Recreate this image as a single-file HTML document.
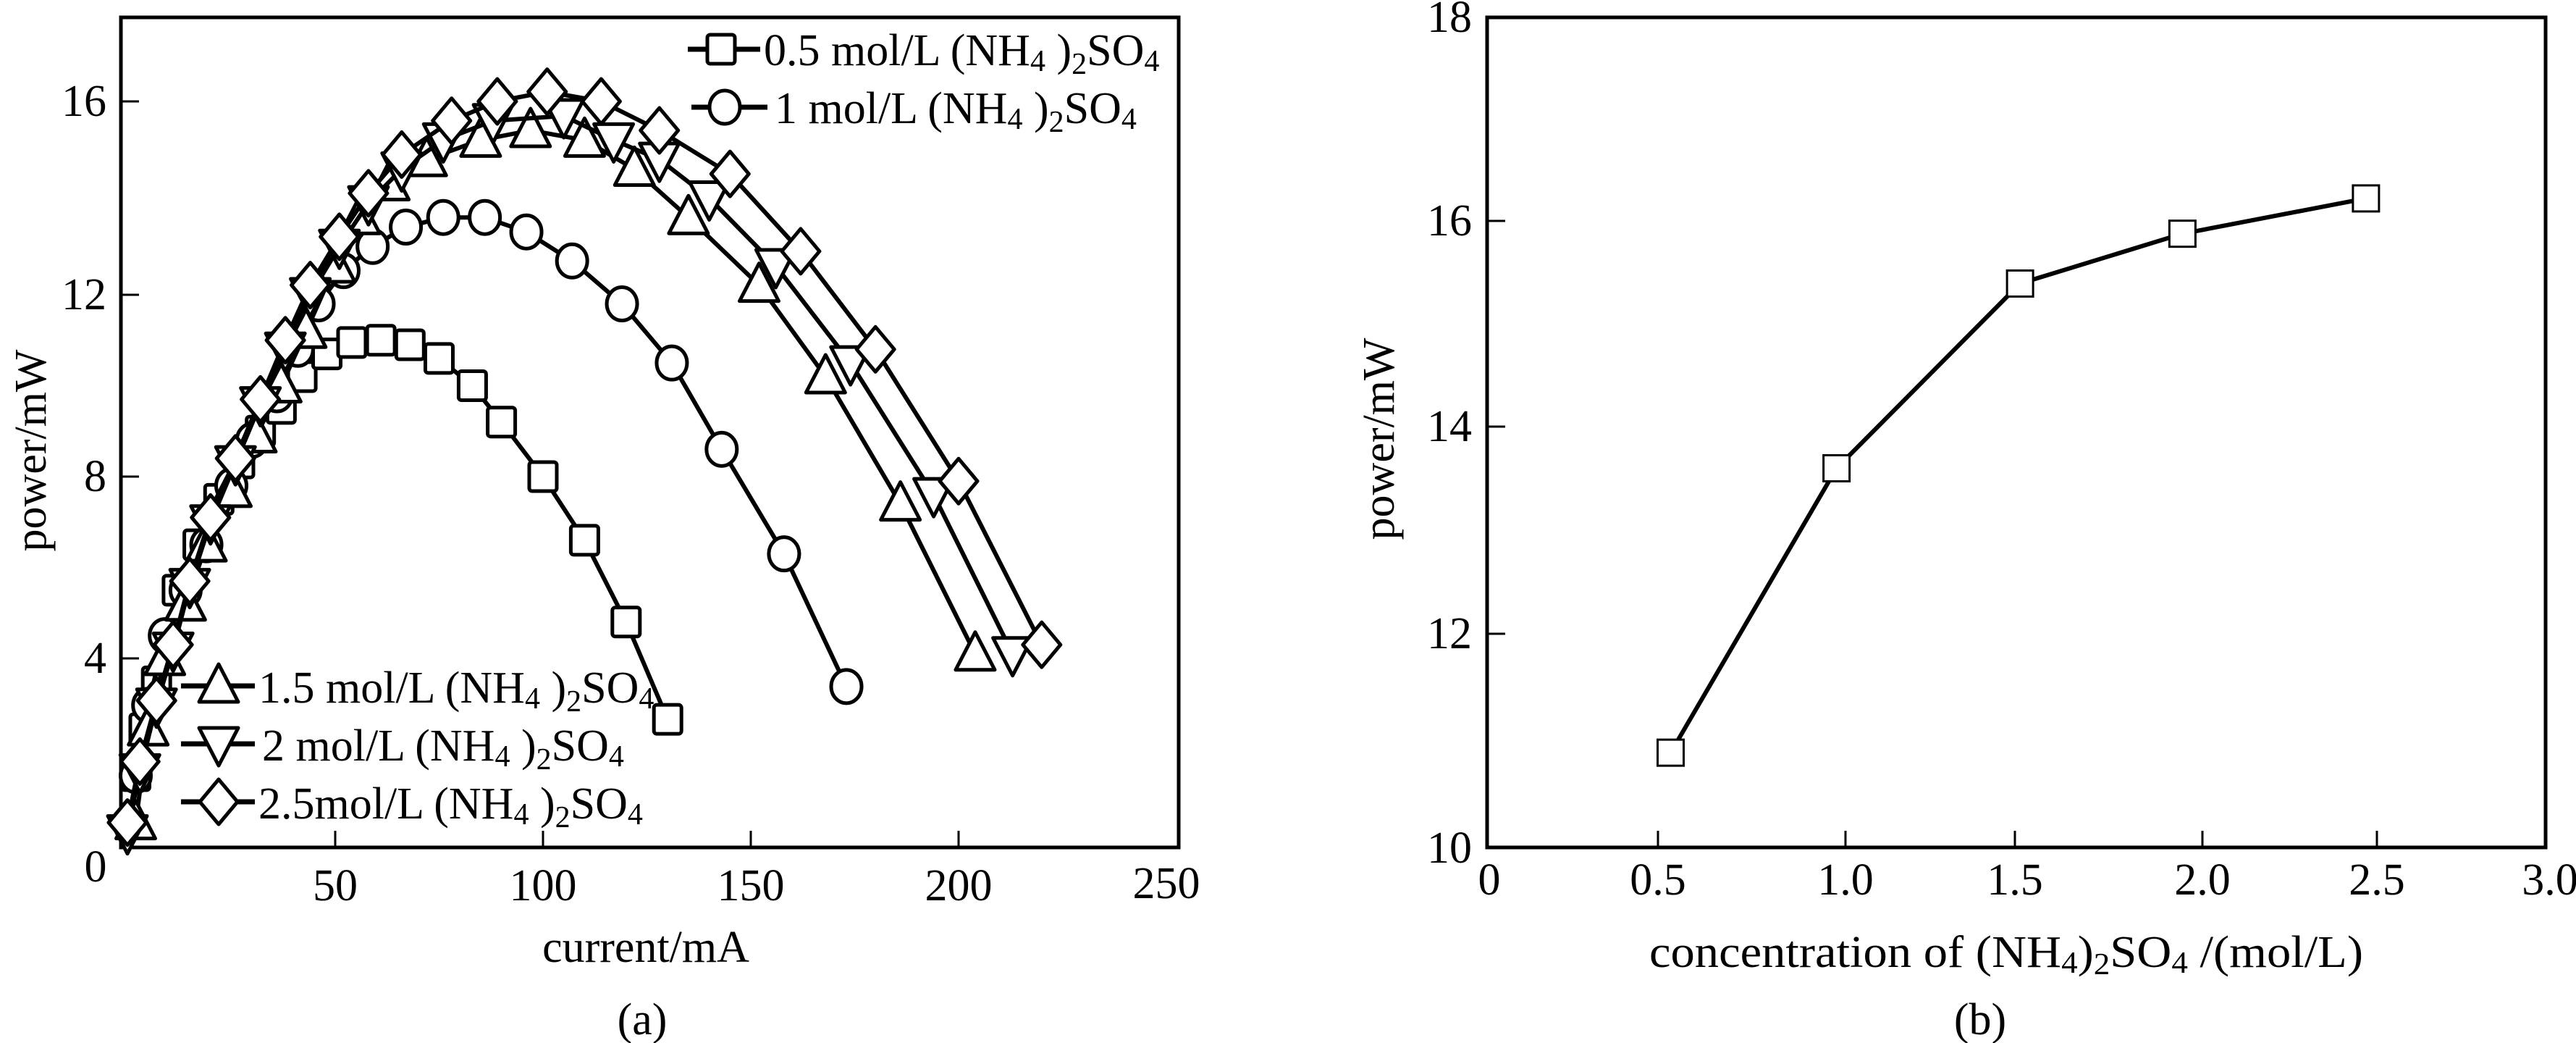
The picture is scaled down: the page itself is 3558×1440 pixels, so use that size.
<!DOCTYPE html>
<html><head><meta charset="utf-8">
<style>
html,body{margin:0;padding:0;background:#fff;}
svg{display:block;}
text{font-family:"Liberation Serif","DejaVu Serif",serif;fill:#000;}
</style></head>
<body>
<svg id="s" xmlns="http://www.w3.org/2000/svg" width="3558" height="1440" viewBox="0 0 3558 1440">
<rect width="3558" height="1440" fill="#fff"/>
<!-- Panel a frame -->
<rect x="167" y="24" width="1461" height="1146" fill="none" stroke="#000" stroke-width="5"/>
<g stroke="#000" stroke-width="3">
<line x1="167" y1="140" x2="192" y2="140"/><line x1="167" y1="407" x2="192" y2="407"/>
<line x1="167" y1="658" x2="192" y2="658"/><line x1="167" y1="909" x2="192" y2="909"/>
<line x1="463" y1="1170" x2="463" y2="1147"/><line x1="750" y1="1170" x2="750" y2="1147"/>
<line x1="1037" y1="1170" x2="1037" y2="1147"/><line x1="1324" y1="1170" x2="1324" y2="1147"/>
</g>
<g font-size="62" text-anchor="end">
<text x="147" y="160">16</text><text x="147" y="427">12</text><text x="147" y="678">8</text><text x="147" y="929">4</text>
</g>
<g font-size="62" text-anchor="middle">
<text x="132" y="1217">0</text><text x="463" y="1243">50</text><text x="750" y="1243">100</text>
<text x="1037" y="1243">150</text><text x="1324" y="1243">200</text><text x="1611" y="1240">250</text>
<text x="892" y="1328">current/mA</text>
<text x="887" y="1428">(a)</text>
</g>
<text font-size="62" text-anchor="middle" transform="translate(63,622) rotate(-90)">power/mW</text>
<!-- legend text a -->
<g font-size="62">
<text x="1055" y="90">0.5 mol/L (NH<tspan font-size="42" dy="8">4</tspan><tspan dy="-8"> )</tspan><tspan font-size="42" dy="12">2</tspan><tspan dy="-12">SO</tspan><tspan font-size="42" dy="8">4</tspan></text>
<text x="1070" y="170">1 mol/L (NH<tspan font-size="42" dy="8">4</tspan><tspan dy="-8"> )</tspan><tspan font-size="42" dy="12">2</tspan><tspan dy="-12">SO</tspan><tspan font-size="42" dy="8">4</tspan></text>
<text x="357" y="970">1.5 mol/L (NH<tspan font-size="42" dy="8">4</tspan><tspan dy="-8"> )</tspan><tspan font-size="42" dy="12">2</tspan><tspan dy="-12">SO</tspan><tspan font-size="42" dy="8">4</tspan></text>
<text x="362" y="1050">2 mol/L (NH<tspan font-size="42" dy="8">4</tspan><tspan dy="-8"> )</tspan><tspan font-size="42" dy="12">2</tspan><tspan dy="-12">SO</tspan><tspan font-size="42" dy="8">4</tspan></text>
<text x="357" y="1130">2.5mol/L (NH<tspan font-size="42" dy="8">4</tspan><tspan dy="-8"> )</tspan><tspan font-size="42" dy="12">2</tspan><tspan dy="-12">SO</tspan><tspan font-size="42" dy="8">4</tspan></text>
</g>
<!-- Panel b frame -->
<rect x="2054" y="24" width="1462" height="1146" fill="none" stroke="#000" stroke-width="5"/>
<g stroke="#000" stroke-width="3">
<line x1="2054" y1="305" x2="2079" y2="305"/><line x1="2054" y1="589" x2="2079" y2="589"/><line x1="2054" y1="875" x2="2079" y2="875"/>
<line x1="2290" y1="1170" x2="2290" y2="1147"/><line x1="2549" y1="1170" x2="2549" y2="1147"/>
<line x1="2783" y1="1170" x2="2783" y2="1147"/><line x1="3042" y1="1170" x2="3042" y2="1147"/><line x1="3283" y1="1170" x2="3283" y2="1147"/>
</g>
<g font-size="62" text-anchor="end">
<text x="2033" y="44">18</text><text x="2033" y="325">16</text><text x="2033" y="609">14</text><text x="2033" y="895">12</text><text x="2033" y="1191">10</text>
</g>
<g font-size="62" text-anchor="middle">
<text x="2057" y="1235">0</text><text x="2290" y="1235">0.5</text><text x="2549" y="1235">1.0</text><text x="2783" y="1235">1.5</text>
<text x="3042" y="1235">2.0</text><text x="3283" y="1235">2.5</text><text x="3522" y="1235">3.0</text>
<text x="2735" y="1428">(b)</text>
</g>
<text font-size="62" x="2278" y="1335" textLength="986" lengthAdjust="spacingAndGlyphs">concentration of (NH<tspan font-size="42" dy="8">4</tspan><tspan dy="-8">)</tspan><tspan font-size="42" dy="10">2</tspan><tspan dy="-10">SO</tspan><tspan font-size="42" dy="8">4</tspan><tspan dy="-8"> /(mol/L)</tspan></text>
<text font-size="62" text-anchor="middle" transform="translate(1925,606) rotate(-90)">power/mW</text>
<g id="g"></g>
</svg>
<script>
var g=document.getElementById('g'),NS='http://www.w3.org/2000/svg';
function el(t,a){var e=document.createElementNS(NS,t);for(var k in a)e.setAttribute(k,a[k]);g.appendChild(e);return e;}
var yt=[[0,1168],[4,909],[8,658],[12,407],[16,140],[20,-127]];
function ya(p){for(var i=0;i<yt.length-1;i++){if(p<=yt[i+1][0]){var a=yt[i],b=yt[i+1];return a[1]+(p-a[0])/(b[0]-a[0])*(b[1]-a[1]);}}return 140;}
function xa(m){return 176+5.74*m;}
function marker(type,x,y){
 var st={fill:'#fff',stroke:'#000','stroke-width':5,'stroke-linejoin':'round'};
 if(type=='sq'){st.x=x-19;st.y=y-20;st.width=38;st.height=40;st.rx=4;el('rect',st);}
 else if(type=='ci'){st.cx=x;st.cy=y;st.rx=21;st.ry=23;el('ellipse',st);}
 else if(type=='tu'){st.points=(x)+','+(y-30)+' '+(x-27)+','+(y+22)+' '+(x+27)+','+(y+22);el('polygon',st);}
 else if(type=='td'){st.points=(x)+','+(y+30)+' '+(x-27)+','+(y-22)+' '+(x+27)+','+(y-22);el('polygon',st);}
 else if(type=='di'){st.points=x+','+(y-31)+' '+(x+26)+','+y+' '+x+','+(y+31)+' '+(x-26)+','+y;el('polygon',st);}
}
function series(type,d,fx,fy){
 var pts=d.map(function(p){return [fx(p[0]),fy(p[1])];});
 el('polyline',{points:pts.map(function(p){return p.join(',')}).join(' '),fill:'none',stroke:'#000','stroke-width':6,'stroke-linejoin':'round'});
 pts.forEach(function(p){marker(type,p[0],p[1]);});
}
var sq=[[2,1.5],[4,2.5],[7,3.5],[12,5.5],[17,6.5],[22,7.5],[27,8.3],[32,9],[37,9.5],[42,10.2],[48,10.7],[54,10.95],[61,11],[68,10.9],[75,10.6],[83,10],[90,9.2],[100,8],[110,6.6],[120,4.8],[130,2.7]];
var ci=[[2,1.5],[5,3],[9,4.5],[14,5.5],[19,6.5],[25,7.8],[30,8.8],[36,9.8],[41,10.8],[46,11.8],[52,12.5],[59,13],[67,13.4],[76,13.6],[86,13.6],[96,13.3],[107,12.7],[119,11.8],[131,10.5],[143,8.6],[158,6.3],[173,3.4]];
var tu=[[2,0.5],[5,2.5],[9,4],[14,5.2],[19,6.5],[25,7.7],[31,8.9],[37,10],[43,11.2],[50,12.6],[56,13.6],[63,14.3],[72,14.8],[85,15.2],[97,15.4],[110,15.2],[122,14.6],[135,13.6],[152,12.2],[168,10.2],[186,7.4],[204,4.1]];
var td=[[0,0.3],[3,1.6],[7,3],[11,4.2],[15,5.6],[20,7],[26,8.3],[32,9.6],[38,10.8],[44,12],[51,13],[58,13.9],[66,14.6],[76,15.2],[88,15.6],[105,15.7],[117,15.2],[128,14.8],[140,14],[156,12.6],[174,10.5],[194,7.6],[213,4.1]];
var di=[[0,0.5],[3,1.8],[7,3.1],[11,4.3],[15,5.7],[20,7.1],[26,8.4],[32,9.7],[38,11],[44,12.2],[51,13.2],[58,14.1],[66,14.9],[78,15.6],[89,16],[101,16.2],[114,16],[128,15.4],[145,14.5],[162,12.9],[180,10.8],[200,7.9],[220,4.3]];
series('sq',sq,xa,ya);series('ci',ci,xa,ya);series('tu',tu,xa,ya);series('td',td,xa,ya);series('di',di,xa,ya);
// legends
[['sq',996,68,950,1050],['ci',1001,148,955,1060],['tu',302,947,250,352],['td',302,1027,250,352],['di',302,1107,250,352]].forEach(function(l){
 el('line',{x1:l[3],y1:l[2],x2:l[4],y2:l[2],stroke:'#000','stroke-width':7});
 marker(l[0],l[1],l[2]);
});
// panel b
var b=[[0.52,10.92],[0.99,13.66],[1.51,15.44],[1.97,15.92],[2.49,16.26]];
var yb=function(p){return 1171-(p-10)*143.3;},xb=function(c){return 2054+c*487.5;};
var pts=b.map(function(p){return xb(p[0])+','+yb(p[1]);}).join(' ');
el('polyline',{points:pts,fill:'none',stroke:'#000','stroke-width':6});
b.forEach(function(p){el('rect',{x:xb(p[0])-18,y:yb(p[1])-18,width:36,height:36,fill:'#fff',stroke:'#000','stroke-width':3});});
</script>
</body></html>
